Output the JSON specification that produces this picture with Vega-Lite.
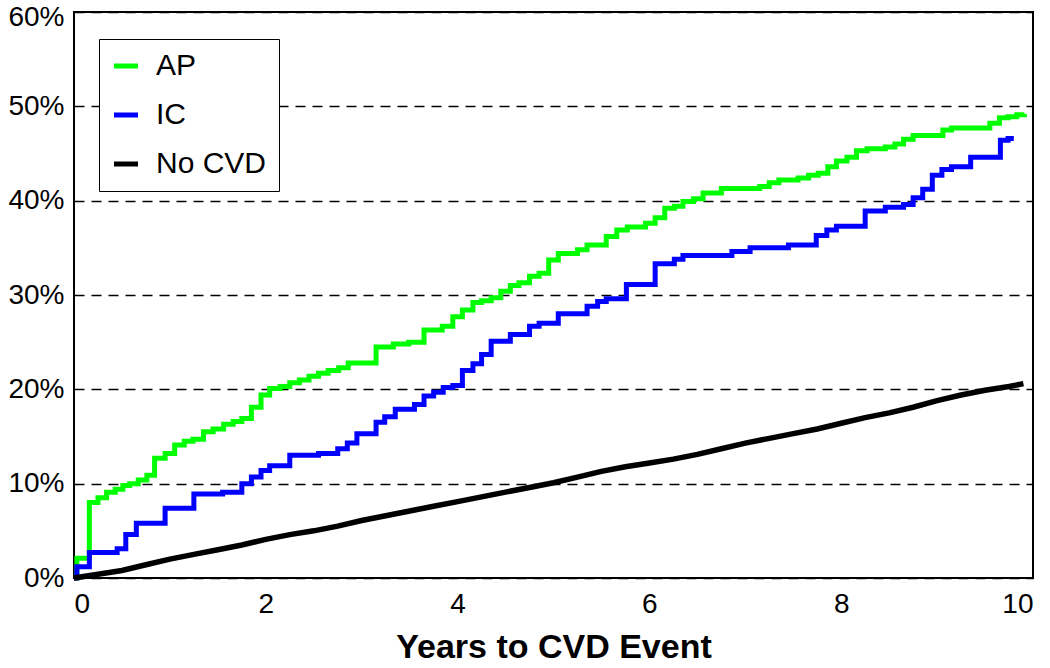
{
  "$schema": "https://vega.github.io/schema/vega-lite/v6.json",
  "autosize": "none",
  "width": 959,
  "height": 566,
  "padding": {"left": 74, "top": 12, "right": 17, "bottom": 90},
  "background": "white",
  "config": {
    "font": "Liberation Sans",
    "view": {"stroke": "black", "strokeWidth": 2}
  },
  "data": {
    "values": [
      {"series":"AP","t":0,"p":0},{"series":"AP","t":0.03,"p":2.1},{"series":"AP","t":0.16,"p":8.0},{"series":"AP","t":0.25,"p":8.5},{"series":"AP","t":0.34,"p":9.1},{"series":"AP","t":0.43,"p":9.4},{"series":"AP","t":0.51,"p":9.8},{"series":"AP","t":0.58,"p":10.0},{"series":"AP","t":0.67,"p":10.4},{"series":"AP","t":0.76,"p":10.9},{"series":"AP","t":0.84,"p":12.7},{"series":"AP","t":0.95,"p":13.2},{"series":"AP","t":1.05,"p":14.1},{"series":"AP","t":1.15,"p":14.5},{"series":"AP","t":1.24,"p":14.7},{"series":"AP","t":1.35,"p":15.5},{"series":"AP","t":1.45,"p":15.8},{"series":"AP","t":1.56,"p":16.3},{"series":"AP","t":1.66,"p":16.6},{"series":"AP","t":1.75,"p":16.9},{"series":"AP","t":1.85,"p":18.1},{"series":"AP","t":1.95,"p":19.4},{"series":"AP","t":2.04,"p":20.1},{"series":"AP","t":2.15,"p":20.3},{"series":"AP","t":2.25,"p":20.7},{"series":"AP","t":2.35,"p":21.0},{"series":"AP","t":2.45,"p":21.4},{"series":"AP","t":2.55,"p":21.7},{"series":"AP","t":2.65,"p":22.0},{"series":"AP","t":2.76,"p":22.3},{"series":"AP","t":2.86,"p":22.8},{"series":"AP","t":3.15,"p":24.5},{"series":"AP","t":3.33,"p":24.8},{"series":"AP","t":3.49,"p":25.0},{"series":"AP","t":3.65,"p":26.3},{"series":"AP","t":3.84,"p":26.7},{"series":"AP","t":3.95,"p":27.7},{"series":"AP","t":4.05,"p":28.4},{"series":"AP","t":4.16,"p":29.2},{"series":"AP","t":4.25,"p":29.4},{"series":"AP","t":4.35,"p":29.7},{"series":"AP","t":4.45,"p":30.4},{"series":"AP","t":4.55,"p":31.0},{"series":"AP","t":4.64,"p":31.3},{"series":"AP","t":4.75,"p":32.0},{"series":"AP","t":4.85,"p":32.3},{"series":"AP","t":4.95,"p":33.7},{"series":"AP","t":5.05,"p":34.4},{"series":"AP","t":5.25,"p":34.8},{"series":"AP","t":5.35,"p":35.3},{"series":"AP","t":5.55,"p":36.2},{"series":"AP","t":5.66,"p":36.9},{"series":"AP","t":5.77,"p":37.2},{"series":"AP","t":5.96,"p":37.6},{"series":"AP","t":6.06,"p":38.2},{"series":"AP","t":6.16,"p":39.2},{"series":"AP","t":6.26,"p":39.4},{"series":"AP","t":6.35,"p":39.9},{"series":"AP","t":6.46,"p":40.2},{"series":"AP","t":6.56,"p":40.8},{"series":"AP","t":6.75,"p":41.3},{"series":"AP","t":7.15,"p":41.5},{"series":"AP","t":7.25,"p":41.9},{"series":"AP","t":7.35,"p":42.2},{"series":"AP","t":7.55,"p":42.4},{"series":"AP","t":7.66,"p":42.7},{"series":"AP","t":7.76,"p":42.9},{"series":"AP","t":7.86,"p":43.6},{"series":"AP","t":7.95,"p":44.2},{"series":"AP","t":8.06,"p":44.6},{"series":"AP","t":8.16,"p":45.3},{"series":"AP","t":8.27,"p":45.5},{"series":"AP","t":8.46,"p":45.7},{"series":"AP","t":8.56,"p":46.0},{"series":"AP","t":8.65,"p":46.5},{"series":"AP","t":8.75,"p":46.9},{"series":"AP","t":9.06,"p":47.5},{"series":"AP","t":9.15,"p":47.7},{"series":"AP","t":9.55,"p":48.2},{"series":"AP","t":9.65,"p":48.8},{"series":"AP","t":9.74,"p":48.9},{"series":"AP","t":9.83,"p":49.1},{"series":"AP","t":9.91,"p":49.2},
      {"series":"IC","t":0,"p":0},{"series":"IC","t":0.03,"p":1.2},{"series":"IC","t":0.16,"p":2.7},{"series":"IC","t":0.45,"p":3.1},{"series":"IC","t":0.54,"p":4.6},{"series":"IC","t":0.65,"p":5.8},{"series":"IC","t":0.95,"p":7.4},{"series":"IC","t":1.25,"p":8.9},{"series":"IC","t":1.55,"p":9.1},{"series":"IC","t":1.75,"p":10.0},{"series":"IC","t":1.85,"p":10.7},{"series":"IC","t":1.95,"p":11.4},{"series":"IC","t":2.04,"p":11.9},{"series":"IC","t":2.25,"p":13.0},{"series":"IC","t":2.55,"p":13.2},{"series":"IC","t":2.75,"p":13.7},{"series":"IC","t":2.85,"p":14.3},{"series":"IC","t":2.95,"p":15.3},{"series":"IC","t":3.15,"p":16.5},{"series":"IC","t":3.24,"p":17.1},{"series":"IC","t":3.35,"p":17.9},{"series":"IC","t":3.55,"p":18.4},{"series":"IC","t":3.65,"p":19.3},{"series":"IC","t":3.75,"p":19.7},{"series":"IC","t":3.85,"p":20.2},{"series":"IC","t":3.95,"p":20.4},{"series":"IC","t":4.05,"p":22.0},{"series":"IC","t":4.16,"p":22.7},{"series":"IC","t":4.25,"p":23.7},{"series":"IC","t":4.35,"p":25.1},{"series":"IC","t":4.55,"p":25.8},{"series":"IC","t":4.75,"p":26.7},{"series":"IC","t":4.85,"p":27.0},{"series":"IC","t":5.05,"p":28.0},{"series":"IC","t":5.35,"p":28.8},{"series":"IC","t":5.46,"p":29.3},{"series":"IC","t":5.55,"p":29.6},{"series":"IC","t":5.76,"p":31.1},{"series":"IC","t":6.06,"p":33.3},{"series":"IC","t":6.26,"p":33.8},{"series":"IC","t":6.35,"p":34.2},{"series":"IC","t":6.86,"p":34.6},{"series":"IC","t":7.05,"p":35.0},{"series":"IC","t":7.45,"p":35.3},{"series":"IC","t":7.74,"p":36.3},{"series":"IC","t":7.85,"p":36.9},{"series":"IC","t":7.95,"p":37.3},{"series":"IC","t":8.25,"p":38.9},{"series":"IC","t":8.46,"p":39.3},{"series":"IC","t":8.65,"p":39.6},{"series":"IC","t":8.75,"p":40.3},{"series":"IC","t":8.85,"p":41.2},{"series":"IC","t":8.95,"p":42.7},{"series":"IC","t":9.05,"p":43.3},{"series":"IC","t":9.15,"p":43.6},{"series":"IC","t":9.35,"p":44.6},{"series":"IC","t":9.66,"p":46.4},{"series":"IC","t":9.74,"p":46.6},{"series":"IC","t":9.8,"p":46.6},
      {"series":"No CVD","t":0,"p":0},{"series":"No CVD","t":0.25,"p":0.4},{"series":"No CVD","t":0.5,"p":0.8},{"series":"No CVD","t":0.75,"p":1.4},{"series":"No CVD","t":1.0,"p":2.0},{"series":"No CVD","t":1.25,"p":2.5},{"series":"No CVD","t":1.5,"p":3.0},{"series":"No CVD","t":1.75,"p":3.5},{"series":"No CVD","t":2.0,"p":4.1},{"series":"No CVD","t":2.25,"p":4.6},{"series":"No CVD","t":2.5,"p":5.0},{"series":"No CVD","t":2.75,"p":5.5},{"series":"No CVD","t":3.0,"p":6.1},{"series":"No CVD","t":3.25,"p":6.6},{"series":"No CVD","t":3.5,"p":7.1},{"series":"No CVD","t":3.75,"p":7.6},{"series":"No CVD","t":4.0,"p":8.1},{"series":"No CVD","t":4.25,"p":8.6},{"series":"No CVD","t":4.5,"p":9.1},{"series":"No CVD","t":4.75,"p":9.6},{"series":"No CVD","t":5.0,"p":10.1},{"series":"No CVD","t":5.25,"p":10.7},{"series":"No CVD","t":5.5,"p":11.3},{"series":"No CVD","t":5.75,"p":11.8},{"series":"No CVD","t":6.0,"p":12.2},{"series":"No CVD","t":6.25,"p":12.6},{"series":"No CVD","t":6.5,"p":13.1},{"series":"No CVD","t":6.75,"p":13.7},{"series":"No CVD","t":7.0,"p":14.3},{"series":"No CVD","t":7.25,"p":14.8},{"series":"No CVD","t":7.5,"p":15.3},{"series":"No CVD","t":7.75,"p":15.8},{"series":"No CVD","t":8.0,"p":16.4},{"series":"No CVD","t":8.25,"p":17.0},{"series":"No CVD","t":8.5,"p":17.5},{"series":"No CVD","t":8.75,"p":18.1},{"series":"No CVD","t":9.0,"p":18.8},{"series":"No CVD","t":9.25,"p":19.4},{"series":"No CVD","t":9.5,"p":19.9},{"series":"No CVD","t":9.75,"p":20.3},{"series":"No CVD","t":9.9,"p":20.6}
    ]
  },
  "encoding": {
    "x": {
      "field": "t", "type": "quantitative",
      "scale": {"domain": [0, 10], "nice": false, "zero": false},
      "axis": {
        "values": [0, 2, 4, 6, 8, 10], "grid": false, "ticks": false, "domain": false,
        "labelFontSize": 28, "labelColor": "black", "labelPadding": 12,
        "title": "Years to CVD Event", "titleFontSize": 34, "titleFontWeight": "bold",
        "titleColor": "black", "titlePadding": 12
      }
    },
    "y": {
      "field": "p", "type": "quantitative",
      "scale": {"domain": [0, 60], "nice": false},
      "axis": {
        "values": [0, 10, 20, 30, 40, 50, 60], "grid": true, "gridColor": "black",
        "gridDash": [10, 7], "gridWidth": 1.3, "gridOpacity": 1,
        "ticks": false, "domain": false, "labelFontSize": 28, "labelColor": "black",
        "labelPadding": 10, "labelExpr": "datum.value + '%'", "title": null,
        "labelOffset": {"condition": {"test": "datum.value == 60", "value": 5}, "value": 0}
      }
    },
    "color": {
      "field": "series", "type": "nominal",
      "scale": {"domain": ["AP", "IC", "No CVD"], "range": ["#00ff00", "#0000ff", "#000000"]},
      "legend": {
        "title": null, "orient": "none", "legendX": 25, "legendY": 27,
        "symbolType": "stroke", "symbolSize": 576, "symbolStrokeWidth": 5,
        "labelFontSize": 30, "labelColor": "black", "labelOffset": 15,
        "rowPadding": 19, "padding": 12, "strokeColor": "black", "fillColor": "white",
        "labelLimit": 300
      }
    }
  },
  "layer": [
    {
      "transform": [{"filter": "datum.series !== 'No CVD'"}],
      "mark": {"type": "line", "interpolate": "step-after", "strokeWidth": 5}
    },
    {
      "transform": [{"filter": "datum.series === 'No CVD'"}],
      "mark": {"type": "line", "strokeWidth": 5.5}
    }
  ]
}
